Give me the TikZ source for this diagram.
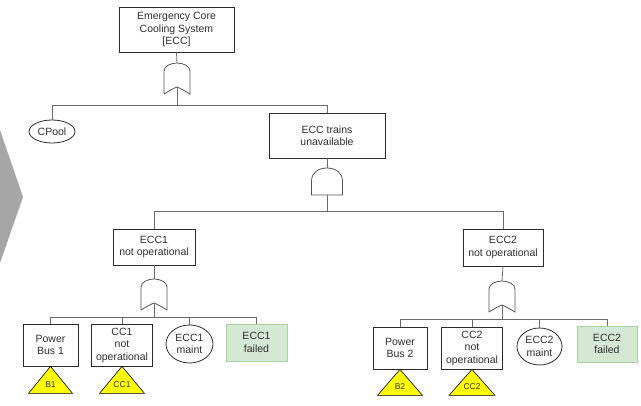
\documentclass[tikz,border=0pt]{standalone}
\usepackage{fontspec}
\setmainfont{Liberation Sans}
\usetikzlibrary{shapes.geometric}
\definecolor{ink}{HTML}{2E2E2E}
\definecolor{edge}{HTML}{2B2B2B}
\definecolor{wire}{HTML}{6A6A6A}
\definecolor{chev}{HTML}{A6A6A6}
\definecolor{okfill}{HTML}{D5E8D4}
\definecolor{okline}{HTML}{A7D39E}
\definecolor{xfer}{HTML}{FFFF00}
\tikzset{
  event/.style={draw=edge, line width=0.8pt, rectangle, inner sep=0pt, align=center, text=ink},
  basic/.style={draw=edge, line width=0.8pt, ellipse, inner sep=0pt, align=center, text=ink},
  house/.style={draw=okline, fill=okfill, line width=1pt, rectangle, inner sep=0pt, align=center, text=ink},
  link/.style={draw=wire, line width=0.8pt},
  gateline/.style={draw=wire!80!black, line width=0.8pt},
  tri/.style={draw=black, fill=xfer, line width=0.6pt, line join=miter},
  trilabel/.style={inner sep=0pt, text=ink, font=\fontsize{8.5}{10}\selectfont},
  orgate/.pic={
    \draw[gateline] (-13,31) -- (-13,8) .. controls (-13,3) and (-6,0) .. (0,0)
      .. controls (6,0) and (13,3) .. (13,8) -- (13,31)
      .. controls (8,28) and (3,25) .. (0,24)
      .. controls (-3,25) and (-8,28) .. (-13,31);
    \coordinate (-in) at (0,0);
    \coordinate (-out) at (0,24);
  },
  andgate/.pic={
    \draw[gateline] (-15.5,27) -- (-15.5,13) .. controls (-15.5,5) and (-9,0) .. (0,0)
      .. controls (9,0) and (15.5,5) .. (15.5,13) -- (15.5,27) -- cycle;
    \coordinate (-in) at (0,0);
    \coordinate (-out) at (0,27);
  },
}
\begin{document}
\begin{tikzpicture}[x=1pt, y=-1pt, font=\fontsize{10.5}{12.5}\selectfont]
\useasboundingbox (0,0) rectangle (641,405);

% grey chevron at the left edge
\fill[chev] (0,130) -- (23,197) -- (0,263) -- cycle;

% top event and first OR gate
\node[event, minimum width=115pt, minimum height=45pt] (top) at (176.5,29.5)
  {Emergency Core\\Cooling System\\{[ECC]}};
\pic (g1) at (177,63) {orgate};
\node[basic, minimum width=46pt, minimum height=23pt] (cpool) at (52,131.5) {CPool};
\node[event, minimum width=116pt, minimum height=45pt] (trains) at (327,135.5)
  {ECC trains\\unavailable};

\draw[link] (top.south) -- (g1-in);
\draw[link] (g1-out) -- ++(0,18) coordinate (j1);
\draw[link] (j1) -| (cpool.north);
\draw[link] (j1) -| (trains.north);

% AND gate over the two trains
\pic (g2) at (327,168) {andgate};
\node[event, minimum width=82pt, minimum height=36pt] (ecc1) at (154,247) {ECC1\\not operational};
\node[event, minimum width=80pt, minimum height=37pt] (ecc2) at (503,247.5) {ECC2\\not operational};

\draw[link] (trains.south) -- (g2-in);
\draw[link] (g2-out) -- ++(0,16) coordinate (j2);
\draw[link] (j2) -| (ecc1.north);
\draw[link] (j2) -| (ecc2.north);

% train 1
\pic (g3) at (154,279) {orgate};
\node[event, minimum width=55pt, minimum height=42pt] (pb1) at (50.5,345) {Power\\Bus 1};
\node[event, minimum width=61pt, minimum height=42pt] (cc1) at (122,345) {CC1\\not\\operational};
\node[basic, minimum width=47pt, minimum height=38pt] (m1) at (189.5,344) {ECC1\\maint};
\node[house, minimum width=61pt, minimum height=37pt] (f1) at (256.5,342.5) {ECC1\\failed};

\draw[link] (ecc1.south) -- (g3-in);
\draw[link] (g3-out) -- ++(0,14) coordinate (j3);
\draw[link] (j3) -| (pb1.north);
\draw[link] (j3) -| (cc1.north);
\draw[link] (j3) -| (m1.north);
\draw[link] (j3) -| (f1.north);

\filldraw[tri] (pb1.south) -- ++(22,27) -- ++(-44,0) -- cycle;
\node[trilabel] (b1) at ([yshift=-18pt]pb1.south) {B1};
\filldraw[tri] (cc1.south) -- ++(22.5,27) -- ++(-45,0) -- cycle;
\node[trilabel] (t1) at ([yshift=-18pt]cc1.south) {CC1};

% train 2
\pic (g4) at (502,281) {orgate};
\node[event, minimum width=54pt, minimum height=42pt] (pb2) at (400,348) {Power\\Bus 2};
\node[event, minimum width=61pt, minimum height=42pt] (cc2) at (472,348) {CC2\\not\\operational};
\node[basic, minimum width=45pt, minimum height=37pt] (m2) at (539.5,346.5) {ECC2\\maint};
\node[house, minimum width=60pt, minimum height=36pt] (f2) at (607,344) {ECC2\\failed};

\draw[link] (ecc2.south) -- (g4-in);
\draw[link] (g4-out) -- ++(0,14) coordinate (j4);
\draw[link] (j4) -| (pb2.north);
\draw[link] (j4) -| (cc2.north);
\draw[link] (j4) -| (m2.north);
\draw[link] (j4) -| (f2.north);

\filldraw[tri] (pb2.south) -- ++(22.5,26) -- ++(-45,0) -- cycle;
\node[trilabel] (b2) at ([yshift=-17.5pt]pb2.south) {B2};
\filldraw[tri] (cc2.south) -- ++(23,26) -- ++(-46,0) -- cycle;
\node[trilabel] (t2) at ([yshift=-17.5pt]cc2.south) {CC2};
\end{tikzpicture}
\end{document}
